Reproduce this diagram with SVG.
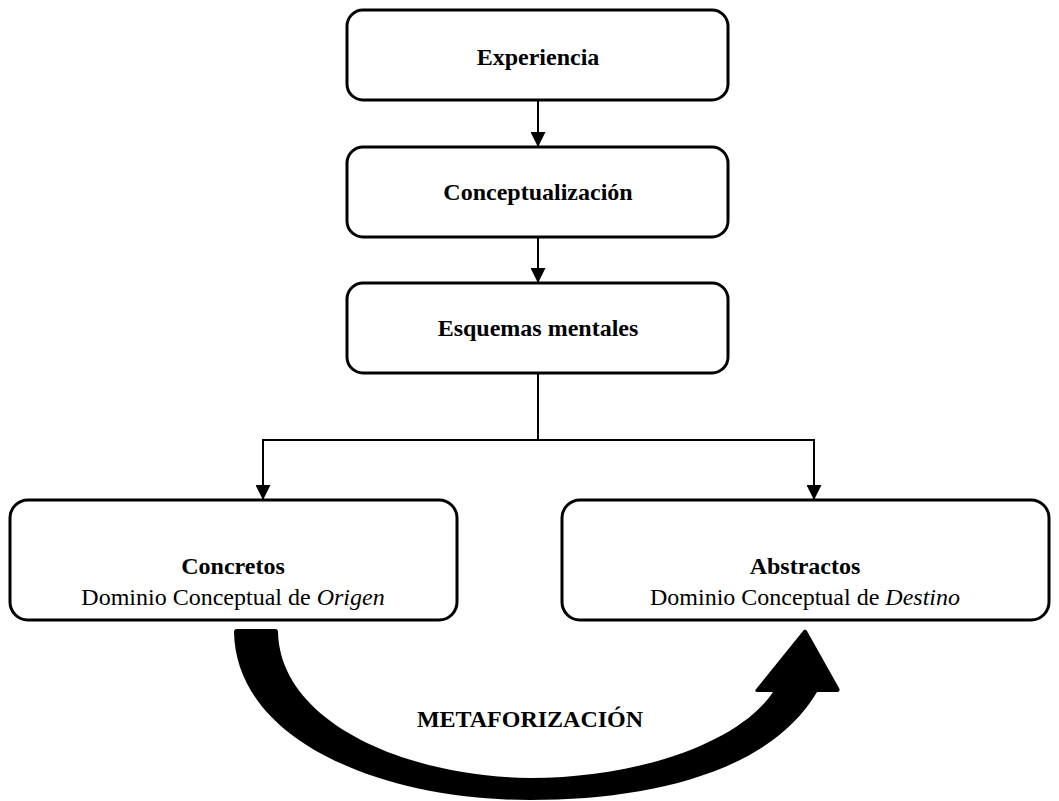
<svg xmlns="http://www.w3.org/2000/svg" width="1059" height="801" viewBox="0 0 1059 801">
<defs>
<style>
.box{fill:#fff;stroke:#000;stroke-width:3}
.t{font-family:"Liberation Serif","Times New Roman",serif;font-size:24px;fill:#000;text-anchor:middle}
.b{font-weight:bold}
.conn{fill:none;stroke:#000;stroke-width:2}
</style>
<marker id="ah2" viewBox="0 0 10 10" refX="10" refY="5" markerWidth="15" markerHeight="15" markerUnits="userSpaceOnUse" orient="auto">
<path d="M0,0 L10,5 L0,10 Z" fill="#000"/>
</marker>
</defs>
<g id="connectors">
<line class="conn" x1="538" y1="100" x2="538" y2="147" marker-end="url(#ah2)"/>
<line class="conn" x1="538" y1="237" x2="538" y2="283" marker-end="url(#ah2)"/>
<polyline class="conn" points="538,373 538,440"/>
<polyline class="conn" points="263,485 263,440 814,440 814,485"/>
<line class="conn" x1="263" y1="470" x2="263" y2="500" marker-end="url(#ah2)"/>
<line class="conn" x1="814" y1="470" x2="814" y2="500" marker-end="url(#ah2)"/>
<path id="metaforizacion-arrow" d="M234,632 Q234,629 237,629 L275,629 Q278,629 278,632 C280,720 400,776 530,778 C640,778 740,742 773,692 L758,692 Q753,692 757,688 L803,631 Q805,628 807,631 L839,688 Q841,692 836,692 L817,692 C770,772 650,800 530,800 C380,800 236,740 234,632 Z" fill="#000"/>
</g>
<g id="experiencia">
<rect class="box" x="347" y="10" width="381" height="90" rx="16"/>
<text class="t b" x="538" y="65">Experiencia</text>
</g>
<g id="conceptualizacion">
<rect class="box" x="347" y="147" width="381" height="90" rx="16"/>
<text class="t b" x="538" y="200">Conceptualización</text>
</g>
<g id="esquemas">
<rect class="box" x="347" y="283" width="381" height="90" rx="16"/>
<text class="t b" x="538" y="336">Esquemas mentales</text>
</g>
<g id="concretos">
<rect class="box" x="10" y="500" width="447" height="120" rx="18"/>
<text class="t b" x="233" y="574">Concretos</text>
<text class="t" x="233" y="605">Dominio Conceptual de <tspan font-style="italic">Origen</tspan></text>
</g>
<g id="abstractos">
<rect class="box" x="562" y="500" width="487" height="120" rx="18"/>
<text class="t b" x="805" y="574">Abstractos</text>
<text class="t" x="805" y="605">Dominio Conceptual de <tspan font-style="italic">Destino</tspan></text>
</g>
<g id="metaforizacion-label">
<text class="t b" x="530" y="727">METAFORIZACIÓN</text>
</g>
</svg>
